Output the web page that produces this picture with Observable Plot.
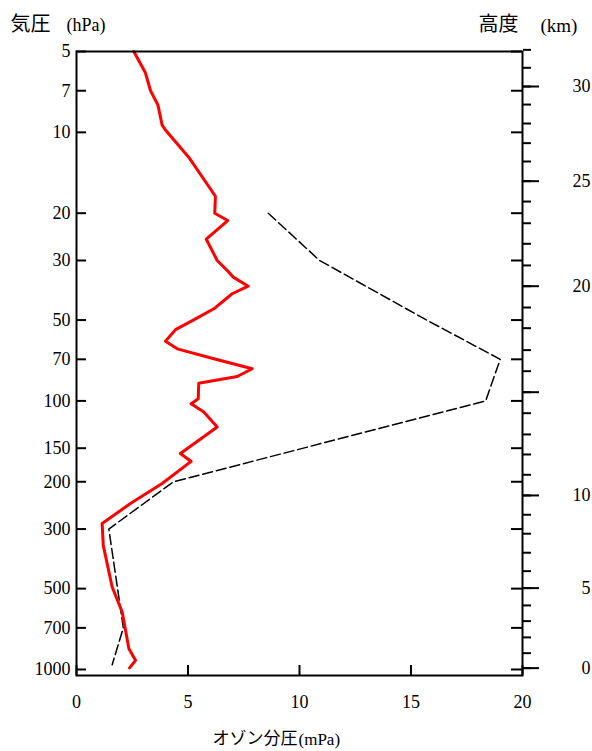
<!DOCTYPE html>
<html><head><meta charset="utf-8">
<script src="https://cdn.jsdelivr.net/npm/d3@7"></script>
<script src="https://cdn.jsdelivr.net/npm/@observablehq/plot@0.6"></script>
<style>body{margin:0;background:#fff}</style>
</head><body><div id="chart"></div>
<script>
// ---- data ----
const pressureTicks = [5, 7, 10, 20, 30, 50, 70, 100, 150, 200, 300, 500, 700, 1000];
const xTicks = [0, 5, 10, 15, 20];
// altitude (km) ticks and the pressure (hPa) at which each sits on the right axis
const kmValues = [0,1,2,3,4,5,6,7,8,9,10,11,12,13,14,15,16,17,18,19,20,21,22,23,24,25,26,27,28,29,30,31,32];
const kmPressure = [988.5,869.5,759.5,660.6,577.5,497.8,430.4,367.5,312.2,265.4,224.9,188.4,158.3,133.3,111.1,92.8,77.5,64.7,53.6,44.9,37.4,31.3,26.0,21.8,18.1,15.2,12.84,10.97,9.27,7.88,6.75,5.75,4.93];
const kmLabelled = [0, 5, 10, 15, 20, 25, 30];

// observed ozone partial pressure profile (red)
const ozoneP = [5, 6.0, 7.0, 7.9, 9.4, 9.8, 12.4, 17.3, 20.0, 21.3, 25.0, 30.0, 32.7, 34.6, 37.4, 39.9, 45.4, 49.5, 54.3, 59.9, 64.0, 69.7, 75.9, 81.1, 85.9, 98.2, 100.5, 102.5, 110, 125, 157, 168, 203, 241, 286, 345, 493, 611, 837, 925, 986];
const ozoneV = [2.57, 3.09, 3.32, 3.65, 3.84, 3.99, 5.04, 6.23, 6.20, 6.78, 5.82, 6.31, 6.76, 7.03, 7.70, 6.98, 6.16, 5.34, 4.44, 3.99, 4.52, 6.16, 7.88, 7.21, 5.48, 5.46, 5.29, 5.14, 5.71, 6.31, 4.66, 5.14, 3.84, 2.42, 1.15, 1.20, 1.60, 2.05, 2.35, 2.65, 2.38];

// reference profile (black dashed)
const refP = [20, 30, 50, 70, 100, 200, 300, 700, 960];
const refV = [8.6, 10.9, 15.7, 19.0, 18.35, 4.35, 1.45, 2.1, 1.6];

const titleLeft = ["気圧", "(hPa)"];
const titleRight = ["高度", "(km)"];
const xTitle = ["オゾン分圧", "(mPa)"];

// ---- build ----
const ozone = ozoneP.map((p, i) => ({p, v: ozoneV[i]}));
const ref = refP.map((p, i) => ({p, v: refV[i]}));
const kmMajorP = kmValues.map((k, i) => [k, kmPressure[i]]).filter(([k]) => kmLabelled.includes(k));
const kmLabelMap = new Map(kmMajorP.map(([k, p]) => [p, String(k)]));
const kmMajorPressures = kmMajorP.map(d => d[1]);

const W = 592, H = 751, mL = 76, mR = 70, mT = 51, mB = 76;
const plotW = W - mL - mR, plotH = H - mT - mB;
const serif = "Liberation Serif, Times New Roman, serif";
const cjk = "Noto Sans CJK JP, sans-serif";

const chart = Plot.plot({
  width: W, height: H,
  marginLeft: mL, marginRight: mR, marginTop: mT, marginBottom: mB,
  style: {fontFamily: serif, fontSize: "18px", color: "#000", background: "#fff"},
  x: {domain: [0, 20], label: null},
  y: {type: "log", domain: [5, 1053], reverse: true, label: null},
  marks: [
    // inward pressure ticks (left and right)
    Plot.tickY(pressureTicks, {y: d => d, insetRight: plotW - 10, stroke: "#000", strokeWidth: 2}),
    Plot.tickY(pressureTicks, {y: d => d, insetLeft: plotW - 11, stroke: "#000", strokeWidth: 2}),
    // inward x ticks
    Plot.tickX(xTicks, {x: d => d, insetTop: plotH - 10, stroke: "#000", strokeWidth: 2}),
    // axes labels
    Plot.axisY(pressureTicks, {anchor: "left", tickSize: 0, tickPadding: 6, label: null, tickFormat: d => String(d), fontSize: 18, fontFamily: serif}),
    Plot.axisX(xTicks, {anchor: "bottom", tickSize: 0, tickPadding: 20, label: null, tickFormat: d => String(d), fontSize: 18, fontFamily: serif}),
    // altitude axis on the right
    Plot.axisY(kmPressure, {anchor: "right", tickSize: 8, strokeWidth: 2, tickFormat: () => "", label: null}),
    Plot.axisY(kmMajorPressures, {anchor: "right", tickSize: 16, strokeWidth: 2, tickPadding: 52, textAnchor: "end", tickFormat: d => kmLabelMap.get(d), label: null, fontSize: 18, fontFamily: serif}),
    // profiles
    Plot.line(ref, {x: "v", y: "p", stroke: "#000", strokeWidth: 1.5, strokeDasharray: "10,4"}),
    Plot.line(ozone, {x: "v", y: "p", stroke: "#ff0000", strokeWidth: 3}),
    Plot.frame({stroke: "#000", strokeWidth: 2}),
    // titles
    Plot.text([titleLeft[0]], {text: d => d, frameAnchor: "top-left", dx: -66, dy: -27, textAnchor: "start", lineAnchor: "middle", fontFamily: cjk, fontSize: 20}),
    Plot.text([titleLeft[1]], {text: d => d, frameAnchor: "top-left", dx: -10, dy: -26, textAnchor: "start", lineAnchor: "middle", fontFamily: serif, fontSize: 18}),
    Plot.text([titleRight[0]], {text: d => d, frameAnchor: "top-left", dx: 402, dy: -27, textAnchor: "start", lineAnchor: "middle", fontFamily: cjk, fontSize: 20}),
    Plot.text([titleRight[1]], {text: d => d, frameAnchor: "top-left", dx: 464, dy: -26, textAnchor: "start", lineAnchor: "middle", fontFamily: serif, fontSize: 19}),
    Plot.text([xTitle[0]], {text: d => d, frameAnchor: "bottom-left", dx: 136, dy: 63, textAnchor: "start", lineAnchor: "middle", fontFamily: cjk, fontSize: 17}),
    Plot.text([xTitle[1]], {text: d => d, frameAnchor: "bottom-left", dx: 222, dy: 64, textAnchor: "start", lineAnchor: "middle", fontFamily: serif, fontSize: 17})
  ]
});
document.getElementById("chart").appendChild(chart);
</script>
</body></html>
